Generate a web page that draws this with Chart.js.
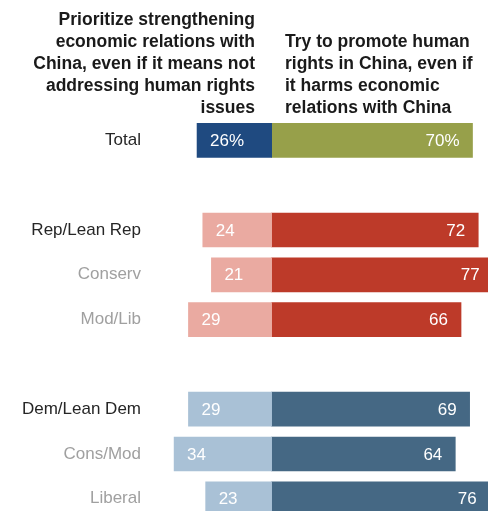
<!DOCTYPE html>
<html>
<head>
<meta charset="utf-8">
<script src="https://cdn.jsdelivr.net/npm/chart.js@4/dist/chart.umd.min.js"></script>
<style>
  html, body { margin: 0; padding: 0; background: #ffffff; overflow: hidden; width: 488px; height: 511px; }
  #wrap { position: relative; width: 488px; height: 511px; }
</style>
</head>
<body>
<div id="wrap"><canvas id="c"></canvas></div>
<script>
// ---- Data ----
const categories = ['Total', '', 'Rep/Lean Rep', 'Conserv', 'Mod/Lib', '', 'Dem/Lean Dem', 'Cons/Mod', 'Liberal'];
const prioritizeEconomic = [26, null, 24, 21, 29, null, 29, 34, 23];
const promoteRights = [70, null, 72, 77, 66, null, 69, 64, 76];
const groups = ['total', null, 'rep', 'rep', 'rep', null, 'dem', 'dem', 'dem'];
const mainRows = ['Total', 'Rep/Lean Rep', 'Dem/Lean Dem'];
const leftHeader = ['Prioritize strengthening', 'economic relations with', 'China, even if it means not', 'addressing human rights', 'issues'];
const rightHeader = ['Try to promote human', 'rights in China, even if', 'it harms economic', 'relations with China'];

// ---- Styles ----
const lightColors = { total: '#1f4a80', rep: '#eaaaa1', dem: '#a9c1d6' };
const darkColors  = { total: '#97a04a', rep: '#bd3a29', dem: '#456884' };

const FONT_FAMILY = '"Liberation Sans", Arial, sans-serif';

function buildPoints(values, sign) {
  const pts = [];
  const colors = [];
  values.forEach((v, i) => {
    if (v == null) return;
    pts.push({ x: sign * v, y: i });
    colors.push(sign < 0 ? lightColors[groups[i]] : darkColors[groups[i]]);
  });
  return { pts, colors };
}
const leftSet = buildPoints(prioritizeEconomic, -1);
const rightSet = buildPoints(promoteRights, 1);

const valueLabels = {
  id: 'valueLabels',
  afterDatasetsDraw(chart) {
    const ctx = chart.ctx;
    const x = chart.scales.x;
    const y = chart.scales.y;
    ctx.save();
    ctx.font = '17px ' + FONT_FAMILY;
    ctx.fillStyle = '#ffffff';
    ctx.textBaseline = 'middle';
    categories.forEach((c, i) => {
      const yc = y.getPixelForValue(i);
      const suffix = i === 0 ? '%' : '';
      if (prioritizeEconomic[i] != null) {
        ctx.textAlign = 'left';
        ctx.fillText(prioritizeEconomic[i] + suffix, x.getPixelForValue(-prioritizeEconomic[i]) + 13, yc + 1);
      }
      if (promoteRights[i] != null) {
        ctx.textAlign = 'right';
        ctx.fillText(promoteRights[i] + suffix, x.getPixelForValue(promoteRights[i]) - 13, yc + 1);
      }
    });
    ctx.restore();
  }
};

const headers = {
  id: 'headers',
  afterDraw(chart) {
    const ctx = chart.ctx;
    ctx.save();
    ctx.font = 'bold 17.5px ' + FONT_FAMILY;
    ctx.fillStyle = '#1a1a1a';
    ctx.textBaseline = 'middle';
    const lh = 22;
    const bottomY = 108;
    ctx.textAlign = 'right';
    leftHeader.forEach((t, i) => {
      ctx.fillText(t, 255, bottomY - (leftHeader.length - 1 - i) * lh);
    });
    ctx.textAlign = 'left';
    rightHeader.forEach((t, i) => {
      ctx.fillText(t, 285, bottomY - (rightHeader.length - 1 - i) * lh);
    });
    ctx.restore();
  }
};

new Chart(document.getElementById('c'), {
  type: 'bar',
  data: {
    datasets: [
      {
        label: 'Prioritize strengthening economic relations with China',
        data: leftSet.pts,
        backgroundColor: leftSet.colors,
        borderWidth: 0,
        barThickness: 34
      },
      {
        label: 'Try to promote human rights in China',
        data: rightSet.pts,
        backgroundColor: rightSet.colors,
        borderWidth: 0,
        barThickness: 34
      }
    ]
  },
  options: {
    indexAxis: 'y',
    responsive: true,
    maintainAspectRatio: false,
    devicePixelRatio: 1,
    animation: false,
    layout: { padding: { top: 118, bottom: 0, left: 0, right: 0 } },
    plugins: { legend: { display: false }, tooltip: { enabled: false } },
    scales: {
      x: {
        type: 'linear',
        stacked: true,
        min: -42.4,
        max: 75.4,
        display: false
      },
      y: {
        type: 'linear',
        stacked: true,
        reverse: true,
        offset: false,
        min: -0.5,
        max: -0.5 + (511 - 118) / 44.8,
        grid: { display: false, drawTicks: false },
        border: { display: false },
        afterFit(scale) {
          scale.width = 150;
          scale.paddingTop = 0;
          scale.paddingBottom = 0;
        },
        afterBuildTicks(scale) { scale.ticks = categories.map((c, i) => ({ value: i })); },
        ticks: {
          padding: 9,
          autoSkip: false,
          font: { family: FONT_FAMILY, size: 17 },
          callback: (v) => categories[v] || '',
          color: (ctx) => mainRows.includes(categories[ctx.index]) ? '#262626' : '#a0a0a0'
        }
      }
    }
  },
  plugins: [valueLabels, headers]
});
</script>
</body>
</html>
